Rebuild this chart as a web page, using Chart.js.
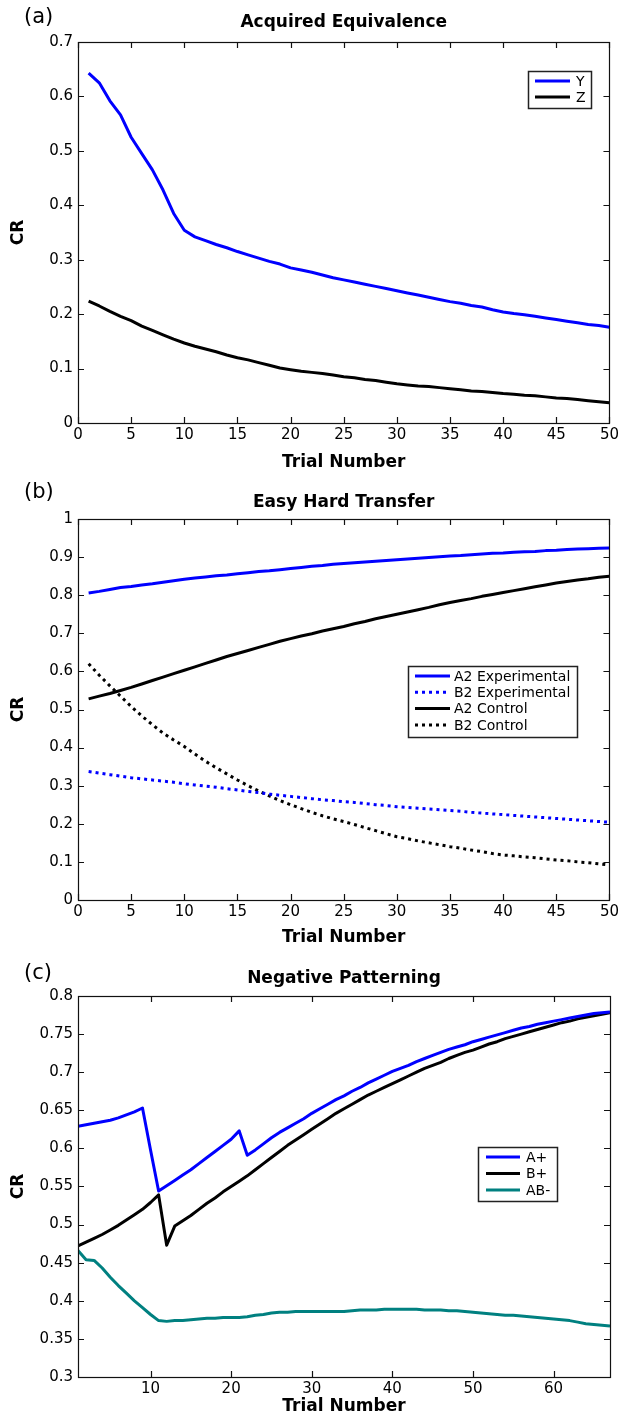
<!DOCTYPE html>
<html>
<head>
<meta charset="utf-8">
<script src="https://cdn.jsdelivr.net/npm/chart.js@4.4.0/dist/chart.umd.min.js"></script>
<style>
  body { margin: 0; background: #fff; }
  #page { position: relative; width: 622px; height: 1417px; }
  .panel { position: absolute; left: 0; width: 622px; }
</style>
</head>
<body>
<div id="page">
  <div class="panel" style="top:0"><canvas id="chartA" width="622" height="477"></canvas></div>
  <div class="panel" style="top:477px"><canvas id="chartB" width="622" height="477"></canvas></div>
  <div class="panel" style="top:954px"><canvas id="chartC" width="622" height="463"></canvas></div>
</div>
<script>
// ---- data ----
function range(a, b) { const r = []; for (let i = a; i <= b; i++) r.push(i); return r; }

// (a) Acquired Equivalence
const trialsA = range(1, 50);
const xTicksA = [0, 5, 10, 15, 20, 25, 30, 35, 40, 45, 50];
const yTicksA = [0, 0.1, 0.2, 0.3, 0.4, 0.5, 0.6, 0.7];
const seriesY = [0.643, 0.625, 0.592, 0.566, 0.525, 0.495, 0.465, 0.428, 0.385, 0.354,
  0.342, 0.335, 0.328, 0.322, 0.315, 0.309, 0.303, 0.297, 0.292, 0.285,
  0.281, 0.277, 0.272, 0.267, 0.263, 0.259, 0.255, 0.251, 0.247, 0.243,
  0.239, 0.235, 0.231, 0.227, 0.223, 0.220, 0.216, 0.213, 0.208, 0.204,
  0.201, 0.199, 0.196, 0.193, 0.190, 0.187, 0.184, 0.181, 0.179, 0.176];
const seriesZ = [0.224, 0.215, 0.205, 0.196, 0.188, 0.178, 0.170, 0.162, 0.154, 0.147,
  0.141, 0.136, 0.131, 0.125, 0.120, 0.116, 0.111, 0.106, 0.101, 0.098,
  0.095, 0.093, 0.091, 0.088, 0.085, 0.083, 0.080, 0.078, 0.075, 0.072,
  0.070, 0.068, 0.067, 0.065, 0.063, 0.061, 0.059, 0.058, 0.056, 0.054,
  0.053, 0.051, 0.050, 0.048, 0.046, 0.045, 0.043, 0.041, 0.039, 0.037];

// (b) Easy Hard Transfer
const trialsB = range(1, 50);
const xTicksB = [0, 5, 10, 15, 20, 25, 30, 35, 40, 45, 50];
const yTicksB = [0, 0.1, 0.2, 0.3, 0.4, 0.5, 0.6, 0.7, 0.8, 0.9, 1];
const a2Experimental = [0.806, 0.810, 0.815, 0.820, 0.823, 0.827, 0.830, 0.834, 0.838, 0.842,
  0.845, 0.848, 0.851, 0.853, 0.856, 0.859, 0.862, 0.864, 0.867, 0.870,
  0.873, 0.876, 0.878, 0.881, 0.883, 0.885, 0.887, 0.889, 0.891, 0.893,
  0.895, 0.897, 0.899, 0.901, 0.903, 0.904, 0.906, 0.908, 0.910, 0.911,
  0.913, 0.914, 0.915, 0.917, 0.918, 0.920, 0.921, 0.922, 0.923, 0.924];
const b2Experimental = [0.337, 0.333, 0.329, 0.325, 0.321, 0.318, 0.315, 0.312, 0.309, 0.305,
  0.302, 0.299, 0.296, 0.292, 0.289, 0.285, 0.282, 0.278, 0.275, 0.272,
  0.269, 0.266, 0.263, 0.261, 0.258, 0.256, 0.253, 0.250, 0.248, 0.245,
  0.243, 0.241, 0.239, 0.237, 0.235, 0.233, 0.230, 0.228, 0.226, 0.224,
  0.222, 0.220, 0.218, 0.216, 0.214, 0.212, 0.210, 0.208, 0.206, 0.204];
const a2Control = [0.528, 0.535, 0.542, 0.550, 0.558, 0.567, 0.576, 0.585, 0.594, 0.603,
  0.612, 0.621, 0.630, 0.639, 0.647, 0.655, 0.663, 0.671, 0.679, 0.686,
  0.693, 0.699, 0.706, 0.712, 0.718, 0.725, 0.731, 0.738, 0.744, 0.750,
  0.756, 0.762, 0.768, 0.775, 0.781, 0.786, 0.791, 0.797, 0.802, 0.807,
  0.812, 0.817, 0.822, 0.827, 0.832, 0.836, 0.840, 0.843, 0.847, 0.850];
const b2Control = [0.620, 0.590, 0.562, 0.535, 0.508, 0.483, 0.460, 0.438, 0.420, 0.403,
  0.383, 0.364, 0.347, 0.331, 0.315, 0.300, 0.286, 0.273, 0.261, 0.250,
  0.240, 0.230, 0.221, 0.213, 0.206, 0.198, 0.190, 0.182, 0.174, 0.166,
  0.161, 0.155, 0.150, 0.145, 0.140, 0.136, 0.131, 0.127, 0.122, 0.118,
  0.116, 0.113, 0.111, 0.108, 0.105, 0.103, 0.100, 0.098, 0.095, 0.092];

// (c) Negative Patterning
const trialsC = range(1, 67);
const xTicksC = [10, 20, 30, 40, 50, 60];
const yTicksC = [0.3, 0.35, 0.4, 0.45, 0.5, 0.55, 0.6, 0.65, 0.7, 0.75, 0.8];
const aPlus = [0.629, 0.631, 0.633, 0.635, 0.637, 0.640, 0.644, 0.648, 0.653, 0.598,
  0.544, 0.551, 0.558, 0.565, 0.572, 0.580, 0.588, 0.596, 0.604, 0.612,
  0.623, 0.591, 0.598, 0.606, 0.614, 0.621, 0.627, 0.633, 0.639, 0.646,
  0.652, 0.658, 0.664, 0.669, 0.675, 0.680, 0.686, 0.691, 0.696, 0.701,
  0.705, 0.709, 0.714, 0.718, 0.722, 0.726, 0.730, 0.733, 0.736, 0.740,
  0.743, 0.746, 0.749, 0.752, 0.755, 0.758, 0.760, 0.763, 0.765, 0.767,
  0.769, 0.771, 0.773, 0.775, 0.777, 0.778, 0.779];
const bPlus = [0.472, 0.477, 0.482, 0.487, 0.493, 0.499, 0.506, 0.513, 0.520, 0.529,
  0.539, 0.473, 0.498, 0.505, 0.512, 0.520, 0.528, 0.535, 0.543, 0.550,
  0.557, 0.564, 0.572, 0.580, 0.588, 0.596, 0.604, 0.611, 0.618, 0.625,
  0.632, 0.639, 0.646, 0.652, 0.658, 0.664, 0.670, 0.675, 0.680, 0.685,
  0.690, 0.695, 0.700, 0.705, 0.709, 0.713, 0.718, 0.722, 0.726, 0.729,
  0.733, 0.737, 0.740, 0.744, 0.747, 0.750, 0.753, 0.756, 0.759, 0.762,
  0.765, 0.767, 0.770, 0.772, 0.774, 0.776, 0.778];
const abMinus = [0.466, 0.454, 0.453, 0.443, 0.431, 0.420, 0.410, 0.400, 0.391, 0.382,
  0.374, 0.373, 0.374, 0.374, 0.375, 0.376, 0.377, 0.377, 0.378, 0.378,
  0.378, 0.379, 0.381, 0.382, 0.384, 0.385, 0.385, 0.386, 0.386, 0.386,
  0.386, 0.386, 0.386, 0.386, 0.387, 0.388, 0.388, 0.388, 0.389, 0.389,
  0.389, 0.389, 0.389, 0.388, 0.388, 0.388, 0.387, 0.387, 0.386, 0.385,
  0.384, 0.383, 0.382, 0.381, 0.381, 0.380, 0.379, 0.378, 0.377, 0.376,
  0.375, 0.374, 0.372, 0.370, 0.369, 0.368, 0.367];

// ---- drawing ----
const FONT = "'DejaVu Sans', 'Liberation Sans', sans-serif";
const BLUE = "#0000ff";
const BLACK = "#000000";
const TEAL = "#008080";
const DOTS = [3, 4];

function points(xs, ys) {
  return xs.map((x, i) => ({ x: x, y: ys[i] }));
}

function line(label, xs, ys, color, dash) {
  return {
    label: label,
    data: points(xs, ys),
    borderColor: color,
    backgroundColor: color,
    borderWidth: 3,
    borderDash: dash || [],
    borderJoinStyle: "round",
    pointRadius: 0,
    fill: false,
    tension: 0
  };
}

// box around the plot, inward tick marks on all four sides, panel letter and legend
const matlabAxes = {
  id: "matlabAxes",
  afterDraw(chart) {
    const ctx = chart.ctx;
    const area = chart.chartArea;
    const o = chart.options.plugins.matlabAxes;
    const xs = chart.scales.x, ys = chart.scales.y;
    const tick = 6;

    ctx.save();
    ctx.strokeStyle = "#111";
    ctx.lineWidth = 1.2;
    ctx.beginPath();
    xs.ticks.forEach(t => {
      const px = Math.round(xs.getPixelForValue(t.value)) + 0.5;
      ctx.moveTo(px, area.bottom); ctx.lineTo(px, area.bottom - tick);
      ctx.moveTo(px, area.top); ctx.lineTo(px, area.top + tick);
    });
    ys.ticks.forEach(t => {
      const py = Math.round(ys.getPixelForValue(t.value)) + 0.5;
      ctx.moveTo(area.left, py); ctx.lineTo(area.left + tick, py);
      ctx.moveTo(area.right, py); ctx.lineTo(area.right - tick, py);
    });
    ctx.stroke();
    ctx.strokeRect(Math.round(area.left) + 0.5, Math.round(area.top) + 0.5,
      Math.round(area.right - area.left), Math.round(area.bottom - area.top));

    // panel letter
    ctx.fillStyle = "#000";
    ctx.font = "21px " + FONT;
    ctx.textBaseline = "middle";
    ctx.textAlign = "left";
    ctx.fillText(o.letter, 24, o.letterY);

    // legend
    const lg = o.legend;
    ctx.fillStyle = "#fff";
    ctx.fillRect(lg.x, lg.y, lg.w, lg.h);
    ctx.strokeStyle = "#222";
    ctx.lineWidth = 1.5;
    ctx.strokeRect(lg.x + 0.5, lg.y + 0.5, lg.w, lg.h);
    ctx.font = "14px " + FONT;
    chart.data.datasets.forEach((ds, i) => {
      const yy = lg.y + lg.first + i * lg.row;
      ctx.strokeStyle = ds.borderColor;
      ctx.lineWidth = 3;
      ctx.setLineDash(ds.borderDash || []);
      ctx.beginPath();
      ctx.moveTo(lg.x + lg.l1, yy);
      ctx.lineTo(lg.x + lg.l2, yy);
      ctx.stroke();
      ctx.setLineDash([]);
      ctx.fillStyle = "#000";
      ctx.fillText(ds.label, lg.x + lg.tx, yy + 1);
    });
    ctx.restore();
  }
};

function makePanel(id, cfg) {
  const tickFont = { family: FONT, size: 15 };
  const boldFont = { family: FONT, size: 17, weight: "bold" };
  return new Chart(document.getElementById(id), {
    type: "line",
    data: { datasets: cfg.datasets },
    plugins: [matlabAxes],
    options: {
      responsive: false,
      animation: false,
      events: [],
      layout: { padding: { left: 0, right: 12, top: 0, bottom: 0 } },
      plugins: {
        legend: { display: false },
        tooltip: { enabled: false },
        title: {
          display: true,
          text: cfg.title,
          color: "#000",
          font: boldFont,
          fullSize: false,
          padding: { top: cfg.titleTop, bottom: 21.6 - cfg.titleTop }
        },
        matlabAxes: { letter: cfg.letter, letterY: cfg.letterY, legend: cfg.legend }
      },
      scales: {
        x: {
          type: "linear",
          min: cfg.xMin,
          max: cfg.xMax,
          grid: { display: false, drawTicks: false },
          border: { display: false },
          afterBuildTicks: s => { s.ticks = cfg.xTicks.map(v => ({ value: v })); },
          afterFit: s => { s.height = cfg.xHeight; },
          ticks: { color: "#000", font: tickFont, padding: 3, maxRotation: 0, autoSkip: false,
            callback: v => String(v) },
          title: { display: true, text: "Trial Number", color: "#000", font: boldFont,
            padding: { top: 0, bottom: cfg.xTitleBottom } }
        },
        y: {
          type: "linear",
          min: cfg.yMin,
          max: cfg.yMax,
          grid: { display: false, drawTicks: false },
          border: { display: false },
          afterBuildTicks: s => { s.ticks = cfg.yTicks.map(v => ({ value: v })); },
          afterFit: s => { s.width = 78; },
          ticks: { color: "#000", font: tickFont, padding: 5, autoSkip: false,
            callback: v => String(v) },
          title: { display: true, text: "CR", color: "#000", font: boldFont,
            padding: { top: 8, bottom: 0 } }
        }
      }
    }
  });
}

makePanel("chartA", {
  title: "Acquired Equivalence", titleTop: 12, letter: "(a)", letterY: 18,
  xMin: 0, xMax: 50, xTicks: xTicksA, yMin: 0, yMax: 0.7, yTicks: yTicksA,
  xHeight: 54, xTitleBottom: 4,
  legend: { x: 528, y: 71, w: 63, h: 37, first: 10, row: 16, l1: 7, l2: 42, tx: 48 },
  datasets: [
    line("Y", trialsA, seriesY, BLUE),
    line("Z", trialsA, seriesZ, BLACK)
  ]
});

makePanel("chartB", {
  title: "Easy Hard Transfer", titleTop: 15, letter: "(b)", letterY: 16,
  xMin: 0, xMax: 50, xTicks: xTicksB, yMin: 0, yMax: 1, yTicks: yTicksB,
  xHeight: 54, xTitleBottom: 6,
  legend: { x: 408, y: 189, w: 169, h: 71, first: 10, row: 16.3, l1: 7, l2: 42, tx: 46 },
  datasets: [
    line("A2 Experimental", trialsB, a2Experimental, BLUE),
    line("B2 Experimental", trialsB, b2Experimental, BLUE, DOTS),
    line("A2 Control", trialsB, a2Control, BLACK),
    line("B2 Control", trialsB, b2Control, BLACK, DOTS)
  ]
});

makePanel("chartC", {
  title: "Negative Patterning", titleTop: 14, letter: "(c)", letterY: 20,
  xMin: 1, xMax: 67, xTicks: xTicksC, yMin: 0.3, yMax: 0.8, yTicks: yTicksC,
  xHeight: 40, xTitleBottom: 0,
  legend: { x: 478, y: 193, w: 79, h: 54, first: 10, row: 16.5, l1: 8, l2: 42, tx: 48 },
  datasets: [
    line("A+", trialsC, aPlus, BLUE),
    line("B+", trialsC, bPlus, BLACK),
    line("AB-", trialsC, abMinus, TEAL)
  ]
});
</script>
</body>
</html>
